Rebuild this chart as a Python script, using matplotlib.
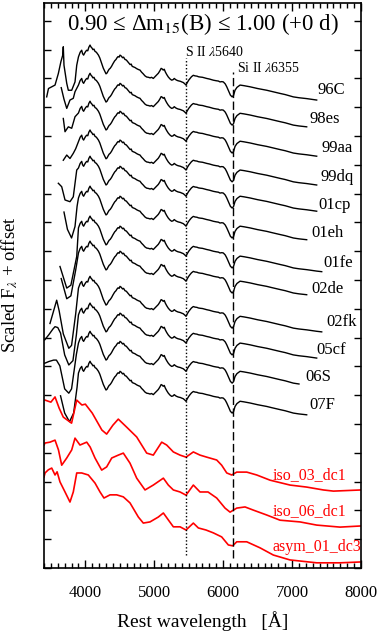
import matplotlib
matplotlib.use("Agg")
import matplotlib.pyplot as plt
import numpy as np

plt.rcParams['font.family'] = ['Liberation Serif', 'DejaVu Serif']
plt.rcParams['mathtext.fontset'] = 'stix'

# shared shape of the observed spectra redward of ~3900 A
# (scaled flux, relative to the level at 7000 A)
tmpl_wave = [3900, 3925, 3947, 3960, 3975, 3990, 4005, 4020, 4035, 4050, 4068, 4080,
             4095, 4110, 4125, 4140, 4160, 4175, 4190, 4210, 4237, 4260, 4285, 4300,
             4315, 4330, 4345, 4360, 4380, 4400, 4425, 4445, 4460, 4475, 4490, 4503,
             4520, 4540, 4555, 4575, 4595, 4615, 4630, 4650, 4665, 4680, 4700, 4720,
             4745, 4770, 4793, 4815, 4840, 4865, 4890, 4915, 4940, 4960, 4986, 5010,
             5035, 5059, 5080, 5100, 5115, 5130, 5145, 5160, 5180, 5204, 5230, 5253,
             5275, 5290, 5310, 5325, 5345, 5360, 5380, 5398, 5420, 5440, 5461, 5480,
             5500, 5519, 5540, 5567, 5590, 5620, 5640, 5664, 5700, 5730, 5761, 5800,
             5830, 5857, 5900, 5930, 5954, 5980, 6002, 6030, 6052, 6080, 6105, 6130,
             6150, 6172, 6200, 6245, 6300, 6390, 6500, 6632, 6700, 6825, 6900, 7018,
             7100, 7212, 7300, 7357, 7430, 7500]
tmpl_flux = [1.39, 1.55, 1.62, 1.50, 1.45, 1.52, 1.58, 1.62, 1.60, 1.72, 1.80, 1.74,
             1.70, 1.64, 1.66, 1.58, 1.55, 1.50, 1.45, 1.35, 1.16, 1.00, 0.87, 0.80,
             0.83, 0.90, 0.96, 0.99, 1.06, 1.15, 1.25, 1.30, 1.36, 1.40, 1.38, 1.45,
             1.42, 1.36, 1.38, 1.30, 1.28, 1.22, 1.18, 1.12, 1.14, 1.06, 1.04, 1.02,
             0.98, 0.95, 0.93, 0.86, 0.80, 0.73, 0.69, 0.68, 0.66, 0.68, 0.64, 0.70,
             0.76, 0.82, 0.90, 0.99, 0.97, 0.93, 0.96, 0.87, 0.78, 0.69, 0.62, 0.58,
             0.60, 0.64, 0.60, 0.58, 0.56, 0.55, 0.54, 0.52, 0.50, 0.46, 0.41, 0.50,
             0.58, 0.64, 0.70, 0.75, 0.73, 0.72, 0.70, 0.69, 0.68, 0.66, 0.64, 0.62,
             0.60, 0.58, 0.56, 0.55, 0.52, 0.53, 0.52, 0.45, 0.35, 0.20, 0.06, 0.00,
             0.05, 0.23, 0.33, 0.41, 0.39, 0.35, 0.29, 0.23, 0.19, 0.12, 0.08, 0.00,
             -0.03, -0.06, -0.09, -0.11, -0.13, -0.15]

sn_names = ["96C", "98es", "99aa", "99dq", "01cp", "01eh",
            "01fe", "02de", "02fk", "05cf", "06S", "07F"]
sn_offset = [16.36, 15.38, 14.41, 13.41, 12.50, 11.46,
             10.42, 9.55, 8.33, 7.40, 6.42, 5.38]
sn_end = [7357, 7232, 7357, 7357, 7357, 7261, 7430, 7285, 7478, 7357, 7164, 7232]

# blue ends (Ca II H&K region), different for each object
blue_wave = [
    [3439, 3465, 3512, 3560, 3608, 3645, 3672, 3680, 3690, 3730, 3753, 3802, 3850, 3875],
    [3650, 3690, 3730, 3777, 3825, 3850],
    [3680, 3705, 3753, 3802, 3850],
    [3680, 3730, 3777, 3825, 3860],
    [3608, 3657, 3705, 3777, 3825, 3875],
    [3690, 3740, 3800, 3850, 3880],
    [3632, 3730, 3790, 3875],
    [3650, 3730, 3790, 3860],
    [3487, 3540, 3584, 3620, 3680, 3760, 3800, 3860],
    [3410, 3470, 3530, 3560, 3600, 3640, 3700, 3760, 3820, 3870],
    [3410, 3470, 3540, 3580, 3630, 3700, 3760, 3800, 3870],
    [3640, 3700, 3770, 3830, 3880],
]
blue_flux = [
    [0.00, 0.29, 0.35, 0.41, 0.81, 1.22, 1.45, 1.74, 1.10, 0.47, 0.23, 0.23, 0.52, 1.10],
    [1.30, 0.90, 0.58, 0.87, 0.93, 1.16],
    [1.20, 0.74, 0.91, 0.86, 1.26],
    [0.75, 0.93, 0.81, 0.99, 1.15],
    [0.86, 0.74, 0.28, 0.22, 0.39, 1.32],
    [0.90, 0.30, 0.00, 0.40, 1.10],
    [0.05, -0.70, -0.60, 0.40],
    [0.50, -0.20, -0.10, 0.80],
    [0.16, 0.60, 0.97, 0.60, -0.20, -0.70, -0.60, 0.50],
    [0.52, 0.70, 0.90, 0.98, 0.95, 0.76, 0.00, -0.35, -0.20, 0.70],
    [0.69, 0.75, 0.80, 0.80, 0.60, -0.20, -0.35, -0.20, 1.00],
    [0.60, 0.00, -0.30, 0.00, 0.90],
]

# synthetic spectra
model_names = ["iso_03_dc1", "iso_06_dc1", "asym_01_dc3"]
model_offset = [2.88, 1.63, 0.28]
model_wave = [
    [3415, 3500, 3560, 3620, 3680, 3800, 3875, 3950, 4000, 4100, 4240, 4309, 4400,
     4478, 4600, 4745, 4890, 4986, 5108, 5180, 5277, 5374, 5461, 5567, 5664, 5761,
     5906, 5978, 6052, 6124, 6197, 6342, 6487, 6680, 6970, 7212, 7454, 7600, 8000],
    [3400, 3415, 3487, 3560, 3610, 3657, 3730, 3802, 3850, 3922, 4020, 4070, 4140,
     4237, 4309, 4383, 4478, 4551, 4648, 4745, 4866, 4986, 5132, 5204, 5277, 5374,
     5461, 5567, 5664, 5780, 5906, 6027, 6100, 6197, 6317, 6438, 6632, 6825, 7115,
     7357, 7696, 8000],
    [3400, 3415, 3463, 3512, 3560, 3590, 3632, 3705, 3777, 3825, 3875, 3947, 4043,
     4140, 4213, 4270, 4358, 4455, 4551, 4648, 4769, 4841, 4938, 5059, 5132, 5204,
     5277, 5374, 5461, 5567, 5640, 5750, 5857, 5978, 6075, 6138, 6197, 6342, 6535,
     6728, 6970, 7357, 7696, 8000],
]
model_flux = [
    [2.95, 2.88, 3.06, 2.67, 2.36, 2.15, 2.95, 2.78, 2.81, 2.50, 1.91, 1.77, 2.08,
     2.29, 2.01, 1.67, 1.11, 1.04, 1.49, 1.39, 1.15, 1.04, 0.97, 1.15, 1.04, 0.97,
     0.87, 0.69, 0.42, 0.35, 0.45, 0.45, 0.35, 0.17, 0.00, -0.07, -0.17, -0.21, -0.17],
    [2.64, 2.71, 2.74, 2.81, 2.47, 1.94, 2.19, 2.47, 2.88, 2.64, 2.74, 2.57, 2.19,
     1.77, 1.88, 2.19, 2.29, 2.36, 2.01, 1.49, 1.08, 1.25, 1.49, 1.25, 1.08, 1.01,
     0.90, 1.25, 1.01, 1.01, 0.80, 0.45, 0.31, 0.45, 0.49, 0.38, 0.21, 0.03, -0.03,
     -0.14, -0.21, -0.17],
    [2.88, 3.02, 3.13, 3.19, 2.95, 3.06, 2.71, 2.36, 2.01, 2.36, 3.02, 3.02, 2.95,
     2.67, 2.36, 2.15, 2.26, 2.26, 2.19, 1.98, 1.49, 1.28, 1.32, 1.49, 1.63, 1.39,
     1.15, 1.15, 1.04, 1.28, 1.11, 1.04, 0.94, 0.80, 0.52, 0.49, 0.63, 0.63, 0.42,
     0.17, 0.00, -0.10, -0.10, -0.07],
]

# where the names sit
sn_label_x = [7362, 7246, 7430, 7406, 7377, 7285, 7454, 7285, 7503, 7357, 7188, 7250]
sn_label_y = [16.60, 15.59, 14.58, 13.58, 12.60, 11.63, 10.59, 9.69, 8.54, 7.57, 6.63, 5.66]
model_label_x = [6719, 6719, 6719]
model_label_y = [3.23, 1.98, 0.73]

s2_wave = 5461
si2_wave = 6148

fig = plt.figure(figsize=(3.8, 6.32), dpi=100)
ax = fig.add_axes([44 / 380, 64 / 632, 317 / 380, 565 / 632])

for i, name in enumerate(sn_names):
    w = np.array(blue_wave[i] + [x for x in tmpl_wave if x > blue_wave[i][-1]], float)
    f = np.array(blue_flux[i] + [y for x, y in zip(tmpl_wave, tmpl_flux) if x > blue_wave[i][-1]])
    keep = w <= sn_end[i]
    ax.plot(w[keep], f[keep] + sn_offset[i], color='black', lw=1.0)
    ax.text(sn_label_x[i], sn_label_y[i], name, fontsize=12, va='center', ha='left')

for i, name in enumerate(model_names):
    ax.plot(model_wave[i], np.array(model_flux[i]) + model_offset[i], color='red', lw=1.2)
    ax.text(model_label_x[i], model_label_y[i], name, fontsize=11.5, color='red',
            va='center', ha='left')

ax.plot([s2_wave, s2_wave], [0.45, 17.71], color='black', lw=1.0, ls=(0, (1, 1.5)))
ax.plot([si2_wave, si2_wave], [0.35, 17.22], color='black', lw=1.0, ls=(0, (6, 2.5)))
ax.text(s2_wave - 15, 17.92, r"S II $\lambda$5640", fontsize=10, va='center', ha='left')
ax.text(si2_wave + 50, 17.36, r"Si II $\lambda$6355", fontsize=10, va='center', ha='left')

ax.text(0.5, 0.962, "0.90 ≤ Δm$_{15}$(B) ≤ 1.00 (+0 d)",
        transform=ax.transAxes, fontsize=16.5, ha='center', va='center')

ax.set_xlim(3400, 8000)
ax.set_ylim(0, 19.62)
ax.set_xticks([4000, 5000, 6000, 7000, 8000])
ax.set_xticks(np.arange(3400, 8001, 100), minor=True)
ax.set_yticks(np.arange(0, 20, 1))
ax.set_yticklabels([])
ax.tick_params(axis='both', which='both', direction='in', top=True, right=True)
ax.tick_params(axis='x', which='major', length=6, width=1, labelsize=12, pad=12)
ax.tick_params(axis='x', which='minor', length=3.5, width=1)
ax.tick_params(axis='y', which='major', length=5, width=1)
for sp in ax.spines.values():
    sp.set_linewidth(1.2)

fig.text(202.5 / 380, 1 - 621 / 632, "Rest wavelength   [Å]", fontsize=14,
         ha='center', va='center')
fig.text(10 / 380, 1 - 285 / 632, r"Scaled F$_\lambda$ + offset",
         rotation=90, fontsize=13.5, ha='center', va='center')

fig.savefig("out.png", dpi=100)
